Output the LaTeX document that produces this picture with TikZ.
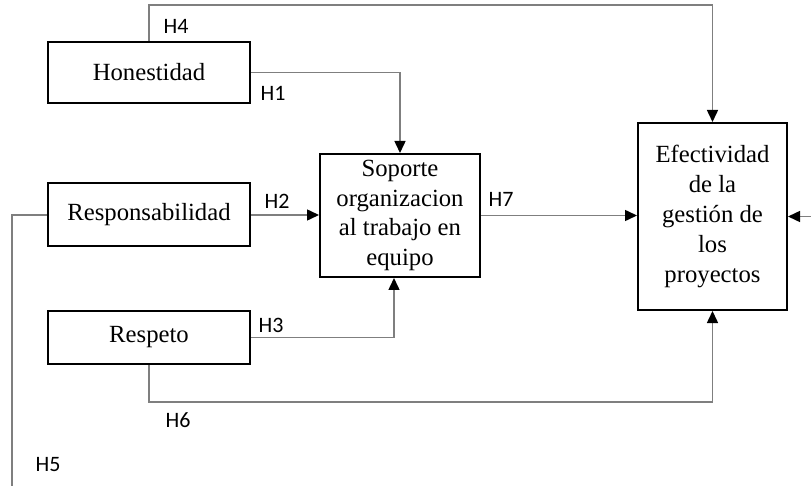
\documentclass[tikz,border=0pt]{standalone}
\usepackage{fontspec}
\setmainfont{Liberation Serif}
\setsansfont{Carlito}
\usetikzlibrary{arrows.meta, positioning}
\definecolor{cline}{HTML}{7F7F7F}
\tikzset{
  box/.style={draw=black, line width=2pt, align=center, inner sep=0pt, font=\fontsize{24.7}{29.8}\selectfont},
  link/.style={draw=cline, line width=1.5pt},
  arrow/.style={link, -{Triangle[length=12pt, width=11pt, color=black]}},
  hyp/.style={font=\sffamily\fontsize{22}{26}\selectfont, inner sep=0pt},
}
\begin{document}
\begin{tikzpicture}[x=1pt, y=-1pt]
  \useasboundingbox (0,0) rectangle (811,486);

  % values
  \node[box, minimum width=202, minimum height=61] (hon) at (149,72.5)  {Honestidad};
  \node[box, minimum width=202, minimum height=63] (res) at (149,215)   {Responsabilidad};
  \node[box, minimum width=202, minimum height=53] (rsp) at (149,337.5) {Respeto};

  % mediator and outcome
  \node[box, minimum width=160, minimum height=123] (sop) at (400,215.5)
    {Soporte\\organizacion\\al trabajo en\\equipo};
  \node[box, minimum width=149, minimum height=187] (efe) at (712.5,216.5)
    {Efectividad\\de la\\gestión de\\los\\proyectos};

  % free ends
  \coordinate (top) at (0,5);
  \coordinate (bot) at (0,402);
  \coordinate (h5end) at (12,486);
  \coordinate (rin) at (811,216.5);

  % hypotheses
  \draw[arrow] (hon.north) -- (hon.north |- top) -| (efe.north);
  \draw[arrow] (hon.east) -| (sop.north);
  \draw[arrow] (res.east) -- (res.east -| sop.west);
  \draw[arrow] (rsp.east) -| ([xshift=-6pt]sop.south);
  \draw[link] (res.west) -| (h5end);
  \draw[arrow] (rsp.south) -- (rsp.south |- bot) -| (efe.south);
  \draw[arrow] (sop.east) -- (sop.east -| efe.west);
  \draw[arrow] (rin) -- (efe.east);

  \node[hyp] (lh1) at (273,93)  {H1};
  \node[hyp] (lh2) at (277,201) {H2};
  \node[hyp] (lh3) at (271,325) {H3};
  \node[hyp] (lh4) at (176,26)  {H4};
  \node[hyp] (lh5) at (48,465)  {H5};
  \node[hyp] (lh6) at (178,420) {H6};
  \node[hyp] (lh7) at (501,199) {H7};
\end{tikzpicture}
\end{document}
